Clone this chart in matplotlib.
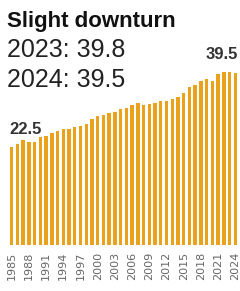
import numpy as np
import matplotlib
matplotlib.use("Agg")
import matplotlib.pyplot as plt

# === Data ===
years = list(range(1985, 2025))
values = [22.5, 23.1, 24.1, 23.7, 23.7, 24.7, 25.0, 25.8, 26.1, 26.6,
          26.6, 27.2, 27.4, 27.8, 28.9, 29.6, 29.9, 30.3, 30.5, 31.2,
          31.4, 32.1, 32.6, 32.1, 32.3, 32.7, 33.1, 33.2, 33.5, 34.1,
          35.0, 36.4, 36.7, 37.8, 38.2, 37.8, 39.2, 39.7, 39.8, 39.5]
tick_years = list(range(1985, 2025, 3))
title = "Slight downturn"
subtitle_lines = ["2023: 39.8", "2024: 39.5"]

bar_color = "#eaa11c"

# === Figure ===
W, H = 240, 291
fig = plt.figure(figsize=(W / 100, H / 100), dpi=100)
ax = fig.add_axes([10 / W, 46.4 / H, 227 / W, 195.3 / H])

x = np.arange(len(years))
ax.bar(x, values, width=0.6, color=bar_color)
ax.set_xlim(-0.3, len(years) - 0.7)
ax.set_ylim(0, 45)

ax.set_xticks([years.index(y) for y in tick_years])
ax.set_xticklabels([str(y) for y in tick_years], rotation=90,
                   fontsize=8, color="#666666", family="DejaVu Sans")
ax.tick_params(axis="x", length=0, pad=5)
ax.set_yticks([])
for s in ax.spines.values():
    s.set_visible(False)

# value labels on first and last bar
ax.annotate(f"{values[0]}", (-0.45, values[0]), xytext=(0, 7),
            textcoords="offset points", ha="left", va="bottom",
            fontsize=12, fontweight="bold", color="#333333",
            family="Liberation Sans", annotation_clip=False)
ax.annotate(f"{values[-1]}", (len(years) - 0.5, values[-2]), xytext=(0, 7),
            textcoords="offset points", ha="right", va="bottom",
            fontsize=12, fontweight="bold", color="#333333",
            family="Liberation Sans", annotation_clip=False)

# === Title block ===
fig.text(7 / W, 1 - 27 / H, title, fontsize=16, fontweight="bold",
         color="#111111", family="Liberation Sans", va="baseline")
fig.text(7 / W, 1 - 57.3 / H, subtitle_lines[0], fontsize=18,
         color="#222222", family="Liberation Sans", va="baseline")
fig.text(7 / W, 1 - 87.3 / H, subtitle_lines[1], fontsize=18,
         color="#222222", family="Liberation Sans", va="baseline")

fig.savefig("out.png", dpi=100)
